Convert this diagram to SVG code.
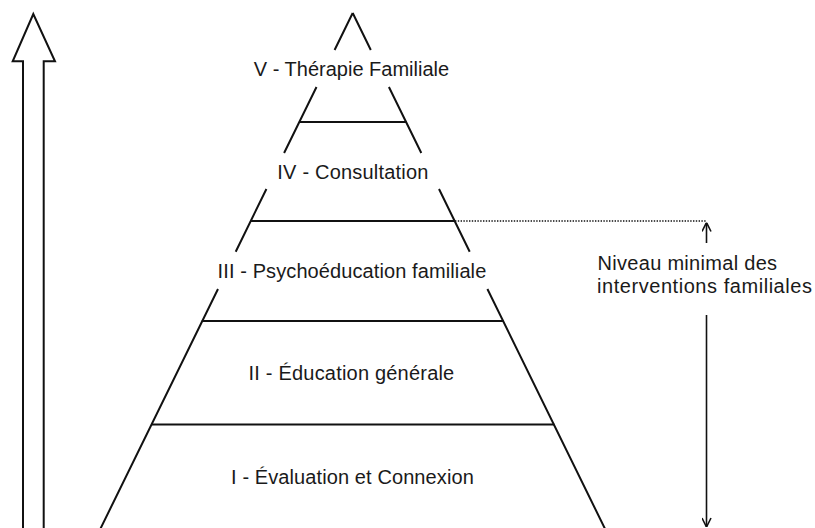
<svg xmlns="http://www.w3.org/2000/svg" width="815" height="528" viewBox="0 0 815 528">
  <defs>
    <style>
      .ln { fill: none; stroke: #111; stroke-width: 2; stroke-linecap: butt; }
      .thin { fill: none; stroke: #111; stroke-width: 1.6; }
      .dot { fill: none; stroke: #111; stroke-width: 1.4; stroke-dasharray: 1.4 1.4; }
      .lbl { font-family: "Liberation Sans", Arial, sans-serif; font-size: 20px; fill: #1a1a1a; }
      .mid { text-anchor: middle; }
    </style>
    <marker id="head" viewBox="0 0 10 10" refX="10" refY="5" markerWidth="10" markerHeight="10" markerUnits="userSpaceOnUse" orient="auto">
      <path d="M1,0.5 L10,5 L1,9.5" fill="none" stroke="#111" stroke-width="1.6"/>
    </marker>
  </defs>
  <rect width="815" height="528" fill="#fff"/>

  <!-- rising block arrow on the left -->
  <g id="progression-arrow">
    <path class="ln" d="M23,530 L23,61.3 L12.7,61.3 L33.3,14 L55,61.3 L43.7,61.3 L43.7,530"/>
  </g>

  <!-- pyramid outline: sides broken around the labels -->
  <g id="pyramid-sides">
    <path class="ln" d="M352.7,13 L334.6,50 M352.7,13 L370.8,50"/>
    <path class="ln" d="M316.5,87 L284.1,153 M388.9,87 L421.3,153"/>
    <path class="ln" d="M266.4,189 L235.7,251.7 M439.0,189 L469.7,251.7"/>
    <path class="ln" d="M218.0,289 L100.3,529 M487.4,289 L605.1,529"/>
  </g>

  <g id="tier-5">
    <text class="lbl mid" x="351.5" y="76">V - Thérapie Familiale</text>
  </g>
  <g id="tier-4">
    <line class="ln" x1="299.3" y1="122" x2="406.1" y2="122"/>
    <text class="lbl mid" x="353" y="179" letter-spacing="0.2">IV - Consultation</text>
  </g>
  <g id="tier-3">
    <line class="ln" x1="250.8" y1="221" x2="454.6" y2="221"/>
    <text class="lbl mid" x="352" y="277.5" letter-spacing="0.1">III - Psychoéducation familiale</text>
  </g>
  <g id="tier-2">
    <line class="ln" x1="201.8" y1="321" x2="503.6" y2="321"/>
    <text class="lbl mid" x="351.5" y="380" letter-spacing="0.2">II - Éducation générale</text>
  </g>
  <g id="tier-1">
    <line class="ln" x1="151.1" y1="424.5" x2="554.3" y2="424.5"/>
    <text class="lbl mid" x="352.5" y="484" letter-spacing="0.1">I - Évaluation et Connexion</text>
  </g>

  <!-- minimum level bracket -->
  <g id="connectors">
    <line class="dot" x1="455" y1="221" x2="706" y2="221"/>
    <line class="thin" x1="706.5" y1="243" x2="706.5" y2="222.5" marker-end="url(#head)"/>
    <line class="thin" x1="706.5" y1="315" x2="706.5" y2="527" marker-end="url(#head)"/>
  </g>
  <g id="minimum-level-note">
    <text class="lbl" x="597.5" y="270" letter-spacing="0.3">Niveau minimal des</text>
    <text class="lbl" x="597" y="292.5" letter-spacing="0.55">interventions familiales</text>
  </g>
</svg>
